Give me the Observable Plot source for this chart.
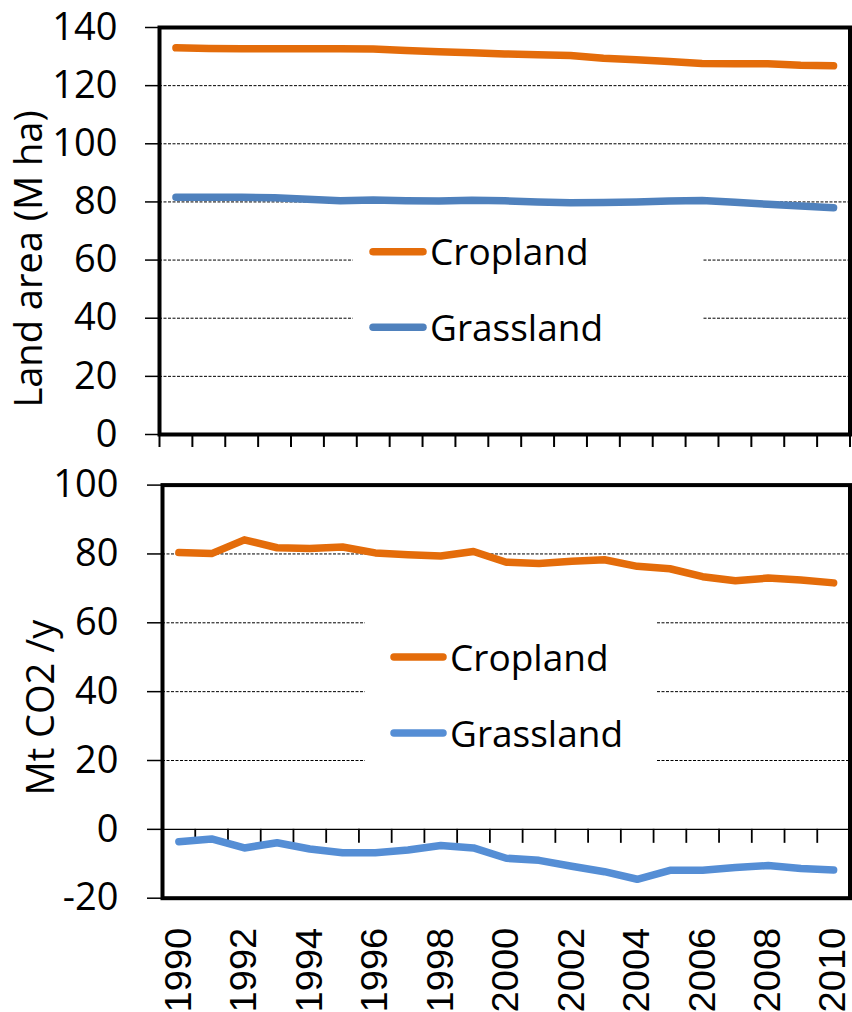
<!DOCTYPE html>
<html><head><meta charset="utf-8">
<script src="https://cdn.jsdelivr.net/npm/d3@7"></script>
<script src="https://cdn.jsdelivr.net/npm/@observablehq/plot@0.6"></script>
<style>
html,body{margin:0;padding:0;background:#fff;overflow:hidden;}
#wrap{position:relative;width:852px;height:1012px;overflow:hidden;background:#fff;}
#wrap > svg{position:absolute;left:0;}
.legend{position:absolute;background:#fff;}
</style></head><body><div id="wrap"></div>
<script>
// ---- data ----
const years = [1990,1991,1992,1993,1994,1995,1996,1997,1998,1999,2000,2001,2002,2003,2004,2005,2006,2007,2008,2009,2010];
const areaCropland  = [133.0,132.8,132.7,132.7,132.7,132.7,132.6,132.1,131.7,131.3,130.9,130.6,130.4,129.4,128.9,128.3,127.6,127.5,127.5,127.0,126.8];
const areaGrassland = [81.6,81.6,81.6,81.4,80.9,80.4,80.7,80.4,80.3,80.6,80.4,80.0,79.7,79.8,80.0,80.3,80.5,79.9,79.2,78.6,78.0];
const co2Cropland   = [80.4,80.1,84.1,81.8,81.6,82.0,80.3,79.8,79.4,80.7,77.6,77.2,77.9,78.3,76.4,75.7,73.4,72.2,73.0,72.4,71.6];
const co2Grassland  = [-3.6,-2.8,-5.4,-3.9,-5.7,-6.8,-6.8,-6.0,-4.7,-5.4,-8.4,-9.0,-10.7,-12.3,-14.5,-11.9,-11.9,-11.1,-10.5,-11.4,-11.8];
const areaTicks = [0,20,40,60,80,100,120,140];
const co2Ticks = [-20,0,20,40,60,80,100];
const yearLabels = [1990,1992,1994,1996,1998,2000,2002,2004,2006,2008,2010];
const seriesNames = ["Cropland","Grassland"];
const areaColors = ["#E46C0A","#4F81BD"];
const co2Colors = ["#E46C0A","#558ED5"];
const areaTitle = "Land area (M ha)";
const co2Title = "Mt CO2 /y";

// ---- tables ----
const areaData = years.flatMap((yr,i)=>[
  {year:yr, series:seriesNames[0], value:areaCropland[i]},
  {year:yr, series:seriesNames[1], value:areaGrassland[i]}]);
const co2Data = years.flatMap((yr,i)=>[
  {year:yr, series:seriesNames[0], value:co2Cropland[i]},
  {year:yr, series:seriesNames[1], value:co2Grassland[i]}]);
const xDomain = [years[0]-0.5, years[years.length-1]+0.5];
const bounds = [...years.map(y=>y-0.5), years[years.length-1]+0.5];
const FONT = "'Open Sans', sans-serif";
const dash = {stroke:"#000", strokeWidth:1, strokeDasharray:"3,1.5"};
const wrap = document.getElementById("wrap");

const topPlot = Plot.plot({
  width: 852, height: 460,
  marginLeft: 159, marginRight: 2.5, marginTop: 27, marginBottom: 26,
  style: {fontFamily: FONT, fontSize: "38px", color: "#000", background: "transparent", overflow: "visible"},
  x: {domain: xDomain},
  y: {domain: [areaTicks[0], areaTicks[areaTicks.length-1]]},
  color: {domain: seriesNames, range: areaColors},
  marks: [
    Plot.ruleY(areaTicks.slice(1,-1), dash),
    Plot.axisY({ticks: areaTicks, tickSize: 14, tickPadding: 28, tickFormat: d=>`${d}`, label: null, strokeWidth: 1.5, fontSize: 38}),
    Plot.axisX({ticks: bounds, tickSize: 13, tickFormat: ()=>"", label: null, strokeWidth: 2}),
    Plot.line(areaData, {x:"year", y:"value", stroke:"series", strokeWidth:7.5, strokeLinecap:"round", strokeLinejoin:"round"}),
    Plot.frame({stroke:"#000", strokeWidth:4}),
    Plot.text([areaTitle], {text:d=>d, frameAnchor:"left", rotate:-90, dx:-130, dy:28, fontSize:38, textAnchor:"middle", lineAnchor:"middle", fill:"#000"})
  ]
});
topPlot.style.top = "0px";
wrap.appendChild(topPlot);

const botPlot = Plot.plot({
  width: 852, height: 552,
  marginLeft: 162, marginRight: 2.5, marginTop: 24.6, marginBottom: 114.3,
  style: {fontFamily: FONT, fontSize: "38px", color: "#000", background: "transparent", overflow: "visible"},
  x: {domain: xDomain, axis: null},
  y: {domain: [co2Ticks[0], co2Ticks[co2Ticks.length-1]]},
  color: {domain: seriesNames, range: co2Colors},
  marks: [
    Plot.ruleY(co2Ticks.filter(v=>v>0 && v<co2Ticks[co2Ticks.length-1]), dash),
    Plot.ruleY([0], {stroke:"#000", strokeWidth:1.3}),
    Plot.ruleX(bounds.slice(1,-1), {x:d=>d, y1:0, y2:0, insetBottom:-14, stroke:"#000", strokeWidth:1.8}),
    Plot.axisY({ticks: co2Ticks, tickSize: 15, tickPadding: 29, tickFormat: d=>`${d}`, label: null, strokeWidth: 1.5, fontSize: 38}),
    Plot.line(co2Data, {x:"year", y:"value", stroke:"series", strokeWidth:7.5, strokeLinecap:"round", strokeLinejoin:"round"}),
    Plot.frame({stroke:"#000", strokeWidth:4}),
    Plot.text(yearLabels, {x:d=>d, text:d=>`${d}`, frameAnchor:"bottom", dy:29.5, rotate:-90, textAnchor:"end", lineAnchor:"middle", fontFamily:"'Liberation Sans', Arial, sans-serif", fontSize:37, fill:"#000"}),
    Plot.text([co2Title], {text:d=>d, frameAnchor:"left", rotate:-90, dx:-120.5, dy:16, fontSize:38, textAnchor:"middle", lineAnchor:"middle", fill:"#000"})
  ]
});
botPlot.style.top = "460px";
wrap.appendChild(botPlot);
// stretch year labels slightly along their reading direction
const yearSet = new Set(yearLabels.map(String));
d3.select(botPlot).selectAll("text").each(function(){
  const t = this.getAttribute("transform") || "";
  if (yearSet.has(this.textContent) && t.includes("rotate")) this.setAttribute("transform", t + " scale(1.03,1)");
});

// ---- legends (overlay boxes) ----
function legend(box, colors, swX1, swX2, rowsY, textX) {
  const ns = "http://www.w3.org/2000/svg";
  const svg = document.createElementNS(ns, "svg");
  svg.setAttribute("width", box.w); svg.setAttribute("height", box.h);
  svg.setAttribute("class", "legend");
  svg.style.left = box.x + "px"; svg.style.top = box.y + "px";
  const bg = document.createElementNS(ns, "rect");
  bg.setAttribute("width", box.w); bg.setAttribute("height", box.h); bg.setAttribute("fill", "#fff");
  svg.appendChild(bg);
  seriesNames.forEach((name, i) => {
    const ln = document.createElementNS(ns, "line");
    ln.setAttribute("x1", swX1 - box.x); ln.setAttribute("x2", swX2 - box.x);
    ln.setAttribute("y1", rowsY[i] - box.y); ln.setAttribute("y2", rowsY[i] - box.y);
    ln.setAttribute("stroke", colors[i]); ln.setAttribute("stroke-width", 7.5);
    ln.setAttribute("stroke-linecap", "round");
    svg.appendChild(ln);
    const tx = document.createElementNS(ns, "text");
    tx.setAttribute("x", textX - box.x); tx.setAttribute("y", rowsY[i] - box.y + 13.6);
    tx.setAttribute("font-family", FONT); tx.setAttribute("font-size", 37); tx.setAttribute("fill", "#000");
    tx.textContent = name;
    svg.appendChild(tx);
  });
  wrap.appendChild(svg);
}
legend({x:353, y:225, w:349, h:130}, areaColors, 373, 423, [251.7, 327.3], 430);
legend({x:365, y:600, w:292, h:190}, co2Colors, 394, 443, [657, 733], 450);
</script></body></html>
